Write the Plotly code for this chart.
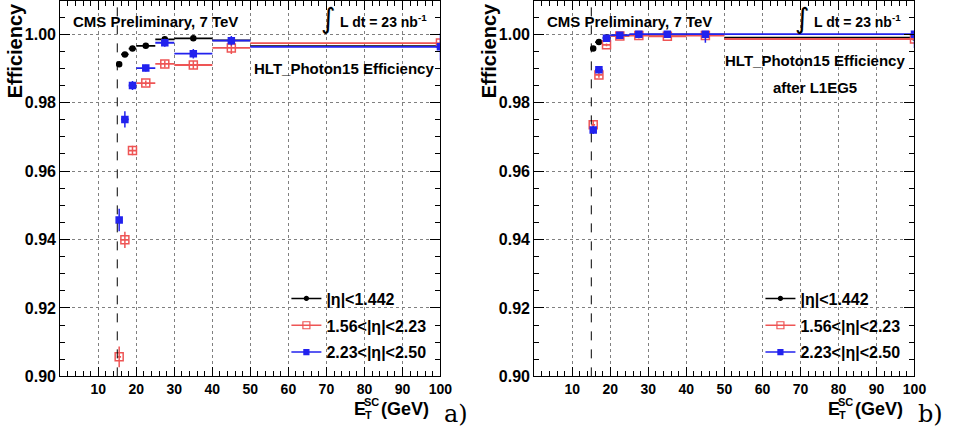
import plotly.graph_objects as go

# ---------------- data ----------------
bin_centers = [15.5, 17, 19, 22.5, 27.5, 35, 45, 100]
bin_halfwidths = [0.5, 1, 1, 2.5, 2.5, 5, 5, 50]

# panel a) HLT_Photon15 efficiency
eff_a_barrel = [0.9912, 0.9941, 0.9958, 0.9966, 0.9985, 0.9988, 0.9982, 0.9965]
err_a_barrel = [0.0004, 0.0003, 0.0002, 0.0002, 0.0002, 0.0002, 0.0003, 0.0003]
eff_a_ec1 = [0.9057, 0.9399, 0.9660, 0.9857, 0.9913, 0.9910, 0.9960, 0.9974]
err_a_ec1 = [0.0030, 0.0024, 0.0014, 0.0008, 0.0010, 0.0012, 0.0018, 0.0012]
eff_a_ec2 = [0.9457, 0.9751, 0.9850, 0.9901, 0.9975, 0.9943, 0.9981, 0.9963]
err_a_ec2 = [0.0033, 0.0024, 0.0013, 0.0010, 0.0012, 0.0014, 0.0014, 0.0040]

# panel b) HLT_Photon15 efficiency after L1EG5
eff_b_barrel = [0.9958, 0.9977, 0.9990, 0.9996, 0.9998, 0.9999, 0.9999, 0.9990]
err_b_barrel = [0.0003, 0.0002, 0.0002, 0.0001, 0.0001, 0.0001, 0.0002, 0.0003]
eff_b_ec1 = [0.9735, 0.9881, 0.9969, 0.9995, 0.9996, 0.9994, 0.9996, 0.9986]
err_b_ec1 = [0.0012, 0.0008, 0.0004, 0.0002, 0.0002, 0.0003, 0.0004, 0.0004]
eff_b_ec2 = [0.9720, 0.9896, 0.9988, 0.9997, 1.0000, 1.0000, 1.0000, 1.0000]
err_b_ec2_up = [0.0012, 0.0007, 0.0004, 0.0002, 0.0000, 0.0000, 0.0000, 0.0000]
err_b_ec2_dn = [0.0012, 0.0007, 0.0004, 0.0002, 0.0002, 0.0002, 0.0025, 0.0040]

series_names = ["|η|<1.442", "1.56<|η|<2.23", "2.23<|η|<2.50"]
threshold = 15
x_range = [0, 100]
y_range = [0.90, 1.0097]
x_ticks = [10, 20, 30, 40, 50, 60, 70, 80, 90, 100]
y_ticks = [0.90, 0.92, 0.94, 0.96, 0.98, 1.00]

# ---------------- styling ----------------
W, H = 966, 445
BLACK = "#000000"
RED = "#ee5555"
BLUE = "#2222ee"
FONT = "Liberation Sans"

def PX(x):
    return x / W

def PY(y):
    return 1 - y / H

styles = [
    dict(color=BLACK, symbol="circle", size=5),
    dict(color=RED, symbol="square-open", size=8),
    dict(color=BLUE, symbol="square", size=6),
]

fig = go.Figure()

def add_series(xa, ya, ys, errs_up, errs_dn, idx):
    st = styles[idx]
    fig.add_trace(go.Scatter(
        x=bin_centers, y=ys, mode="markers", xaxis=xa, yaxis=ya,
        marker=dict(color=st["color"], symbol=st["symbol"], size=st["size"],
                    line=dict(color=st["color"], width=1.5)),
        error_x=dict(type="data", array=bin_halfwidths, color=st["color"],
                     thickness=1.8, width=0),
        error_y=dict(type="data", array=errs_up, arrayminus=errs_dn,
                     symmetric=False, color=st["color"], thickness=1.5, width=0),
        showlegend=False, cliponaxis=True,
    ))

panel_a = [(eff_a_barrel, err_a_barrel, err_a_barrel),
           (eff_a_ec1, err_a_ec1, err_a_ec1),
           (eff_a_ec2, err_a_ec2, err_a_ec2)]
panel_b = [(eff_b_barrel, err_b_barrel, err_b_barrel),
           (eff_b_ec1, err_b_ec1, err_b_ec1),
           (eff_b_ec2, err_b_ec2_up, err_b_ec2_dn)]

for i, (ys, eu, ed) in enumerate(panel_a):
    add_series("x", "y", ys, eu, ed, i)
for i, (ys, eu, ed) in enumerate(panel_b):
    add_series("x2", "y2", ys, eu, ed, i)

# legend-only entries (line + marker like ROOT legends)
for lg, xa, ya in [("legend", "x", "y"), ("legend2", "x2", "y2")]:
    for i, name in enumerate(series_names):
        st = styles[i]
        fig.add_trace(go.Scatter(
            x=[None], y=[None], mode="lines+markers", name=name,
            xaxis=xa, yaxis=ya, legend=lg, legendgroup=lg + str(i),
            line=dict(color=st["color"], width=1.5),
            marker=dict(color=st["color"], symbol=st["symbol"], size=st["size"] - 1,
                        line=dict(color=st["color"], width=1.2)),
        ))

x_dom_a = [61 / W, 446 / W]
x_dom_b = [541 / W, 926 / W]
y_dom = [61 / H, 1.0]

def xaxis(domain, anchor):
    return dict(
        domain=domain, anchor=anchor, range=x_range, tickmode="array",
        tickvals=x_ticks, ticks="inside", ticklen=9, tickwidth=1, tickcolor="black",
        minor=dict(ticks="inside", ticklen=5, dtick=2, tick0=0, tickcolor="black",
                   showgrid=False),
        showline=True, linecolor="black", linewidth=1.2, mirror="allticks",
        showgrid=True, gridcolor="#808080", griddash="dot", gridwidth=1,
        zeroline=False,
        tickfont=dict(family=FONT, size=14, color="black", weight="bold"),
    )

def yaxis(anchor):
    return dict(
        domain=y_dom, anchor=anchor, range=y_range, tickmode="array",
        tickvals=y_ticks, ticktext=[f"{v:.2f}" for v in y_ticks],
        ticks="inside", ticklen=10, tickwidth=1, tickcolor="black",
        minor=dict(ticks="inside", ticklen=5, dtick=0.005, tick0=0.9,
                   tickcolor="black", showgrid=False),
        showline=True, linecolor="black", linewidth=1.2, mirror="allticks",
        showgrid=True, gridcolor="#808080", griddash="dot", gridwidth=1,
        zeroline=False,
        tickfont=dict(family=FONT, size=16, color="black", weight="bold"),
    )

legend_common = dict(
    bgcolor="rgba(255,255,255,0)", borderwidth=0, xanchor="left", yanchor="top",
    font=dict(family=FONT, size=16, color="black", weight="bold"),
    tracegroupgap=3, itemwidth=30,
)

fig.update_layout(
    width=W, height=H,
    margin=dict(l=0, r=0, t=0, b=0),
    paper_bgcolor="white", plot_bgcolor="white",
    font=dict(family=FONT, color="black"),
    xaxis=xaxis(x_dom_a, "y"), yaxis=yaxis("x"),
    xaxis2=xaxis(x_dom_b, "y2"), yaxis2=yaxis("x2"),
    legend=dict(x=PX(290), y=PY(287), **legend_common),
    legend2=dict(x=PX(770), y=PY(287), **legend_common),
)

# threshold line
for xr, yr in [("x", "y domain"), ("x2", "y2 domain")]:
    fig.add_shape(type="line", xref=xr, yref=yr, x0=threshold, x1=threshold,
                  y0=0, y1=1, line=dict(color="black", width=1, dash="dash"))

def ann(text, x, y, size, xanchor="left", yanchor="middle", family=FONT,
        weight="bold", angle=0):
    fig.add_annotation(text=text, xref="paper", yref="paper", x=PX(x), y=PY(y),
                       xanchor=xanchor, yanchor=yanchor, showarrow=False,
                       textangle=angle,
                       font=dict(family=family, size=size, color="black",
                                 weight=weight))

for off, lab in [(0, "a)"), (480, "b)")]:
    ann("Efficiency", 15 + off, 0, 20, xanchor="center", yanchor="top", angle=-90)
    ann("CMS Preliminary, 7 TeV", 72 + off, 21, 15)
    ann("∫", 333 + off, 18, 28, xanchor="center", family="DejaVu Sans", weight="normal")
    ann("L dt = 23 nb<sup>-1</sup>", 342 + off, 20, 14)
    ann("E", 356 + off, 417, 18)
    ann("SC", 367 + off, 410, 11)
    ann("T", 368 + off, 424, 11)
    ann("(GeV)", 384 + off, 417, 18)
    ann(lab, 448 + off, 423, 24, family="DejaVu Serif", weight="normal")

ann("HLT_Photon15 Efficiency", 441, 69, 15, xanchor="right")
ann("HLT_Photon15 Efficiency", 825, 61, 15, xanchor="center")
ann("after L1EG5", 825, 88, 15, xanchor="center")

fig.write_html("out.html")
